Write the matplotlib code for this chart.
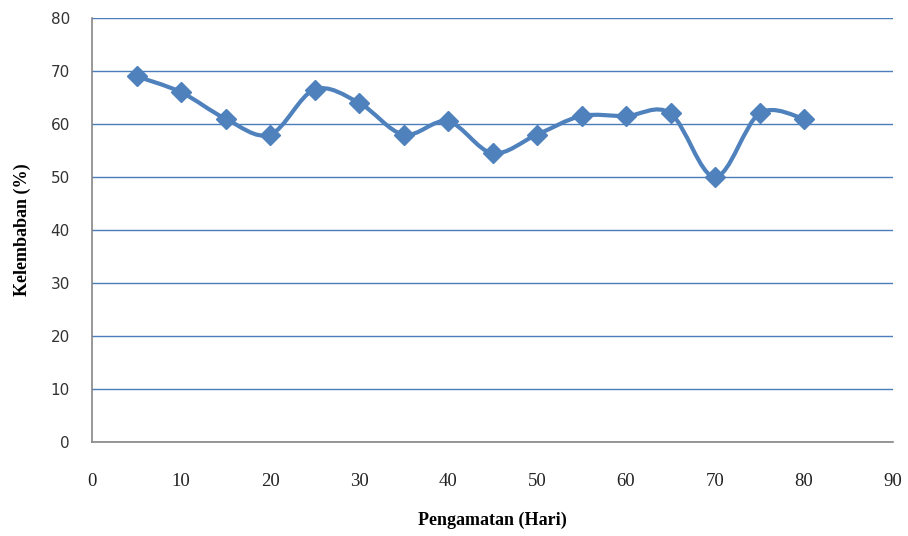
import numpy as np
import matplotlib
matplotlib.use("Agg")
import matplotlib.pyplot as plt
from matplotlib.path import Path
from matplotlib.patches import PathPatch

days = [5, 10, 15, 20, 25, 30, 35, 40, 45, 50, 55, 60, 65, 70, 75, 80]
kelembaban = [69, 66, 61, 58, 66.5, 64, 58, 60.5, 54.5, 58, 61.5, 61.5, 62, 50, 62, 61]
x_ticks = [0, 10, 20, 30, 40, 50, 60, 70, 80, 90]
y_ticks = [0, 10, 20, 30, 40, 50, 60, 70, 80]

color = "#4F81BD"

fig = plt.figure(figsize=(9.08, 5.36), dpi=100)
ax = fig.add_axes([92/908, (536-442)/536, 801/908, 424/536])
ax.set_xlim(0, 90)
ax.set_ylim(0, 80)

# smooth curve (Catmull-Rom style Bezier, like Excel smoothing)
pts = np.column_stack([days, kelembaban]).astype(float)
verts = [tuple(pts[0])]
codes = [Path.MOVETO]
n = len(pts)
for i in range(n - 1):
    p0 = pts[i - 1] if i > 0 else pts[i]
    p1 = pts[i]
    p2 = pts[i + 1]
    p3 = pts[i + 2] if i + 2 < n else pts[i + 1]
    c1 = p1 + (p2 - p0) / 6.0
    c2 = p2 - (p3 - p1) / 6.0
    verts += [tuple(c1), tuple(c2), tuple(p2)]
    codes += [Path.CURVE4] * 3
patch = PathPatch(Path(verts, codes), facecolor="none", edgecolor=color,
                  lw=3.0, zorder=3, capstyle="round", joinstyle="round")
ax.add_patch(patch)
ax.plot(days, kelembaban, linestyle="none", marker="D", markersize=10,
        color=color, zorder=4)

ax.set_xticks(x_ticks)
ax.set_yticks(y_ticks)
ax.set_xticklabels([str(v) for v in x_ticks], fontfamily="Liberation Serif", fontsize=13.5,
                   color="#222222")
ax.set_yticklabels([str(v) for v in y_ticks], fontfamily="DejaVu Sans", fontsize=11,
                   color="#333333")
ax.tick_params(axis="x", length=0, pad=22)
ax.tick_params(axis="y", length=0, pad=16)
ax.yaxis.grid(True, color="#4A7EBB", lw=1.0)
ax.set_axisbelow(True)
for s in ["top", "right"]:
    ax.spines[s].set_visible(False)
for s in ["left", "bottom"]:
    ax.spines[s].set_color("#868686")
    ax.spines[s].set_linewidth(1.2)

ax.set_xlabel("Pengamatan (Hari)", fontfamily="Liberation Serif", fontweight="bold",
              fontsize=13, labelpad=16)
ax.set_ylabel("Kelembaban (%)", fontfamily="Liberation Serif", fontweight="bold",
              fontsize=13, labelpad=14)

fig.savefig("out.png", dpi=100)
